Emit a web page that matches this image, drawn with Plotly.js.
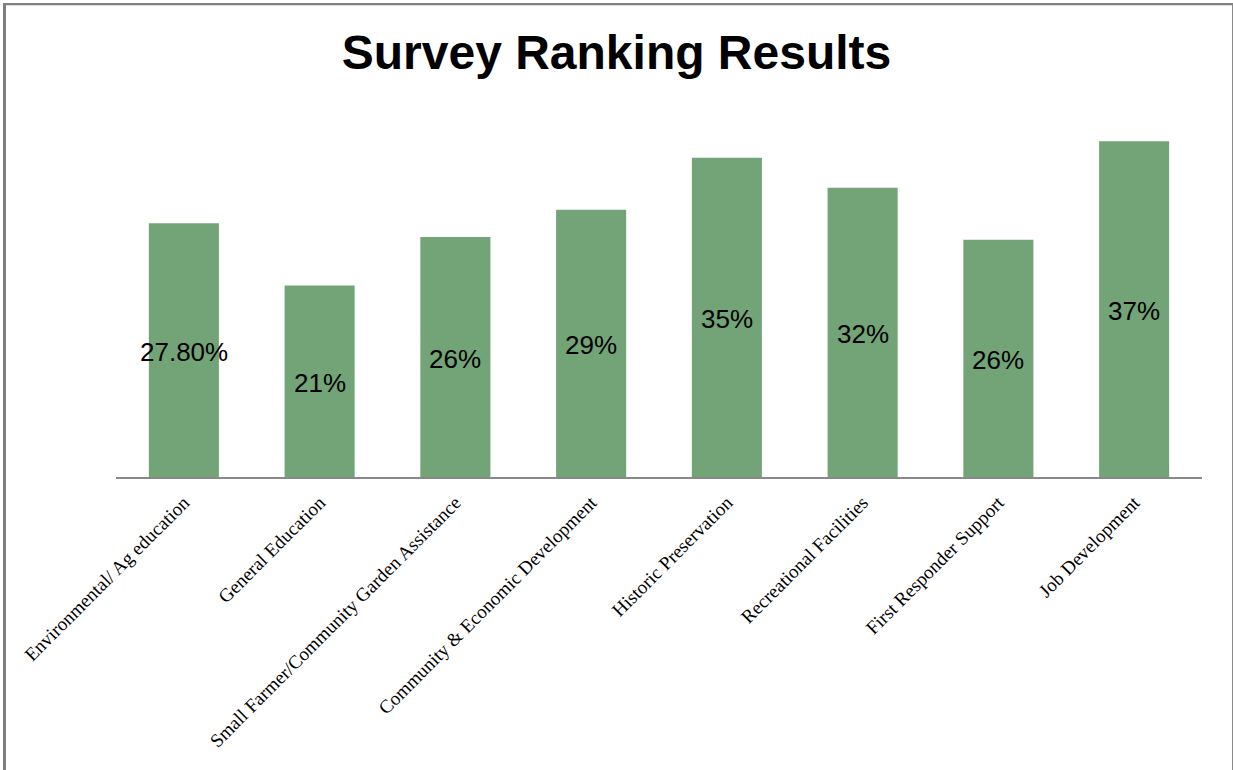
<!DOCTYPE html>
<html>
<head>
<meta charset="utf-8">
<script src="https://cdn.plot.ly/plotly-3.0.1.min.js"></script>
<style>
  html, body { margin: 0; padding: 0; background: #fff; }
  #wrap { position: relative; width: 1233px; height: 770px; overflow: hidden; }
  #chart { position: absolute; left: 0; top: 0; width: 1233px; height: 770px; }
  #frame { position: absolute; left: 3px; top: 3px; width: 1226px; height: 800px;
           border-left: 3px solid #7f7f7f; border-top: 2px solid #808080; border-right: 3px solid #8a8a8a;
           box-shadow: inset 0 1px 0 #dcdcdc; pointer-events: none; }
</style>
</head>
<body>
<div id="wrap">
  <div id="chart"></div>
  <div id="frame"></div>
</div>
<script>
const categories = [
  "Environmental/ Ag education",
  "General Education",
  "Small Farmer/Community Garden Assistance",
  "Community & Economic Development",
  "Historic Preservation",
  "Recreational Facilities",
  "First Responder Support",
  "Job Development"
];
const values = [27.8, 21, 26.3, 29.3, 35, 31.7, 26, 36.8];
const valueLabels = ["27.80%", "21%", "26%", "29%", "35%", "32%", "26%", "37%"];

const bars = {
  type: "bar",
  x: categories,
  y: values,
  marker: { color: "#72a478" },
  hoverinfo: "none"
};

// data labels centred in each bar (half of each bar's value)
const labelAnnotations = categories.map((c, i) => ({
  x: c,
  y: values[i] / 2,
  xref: "x",
  yref: "y",
  text: valueLabels[i],
  showarrow: false,
  xanchor: "center",
  yanchor: "middle",
  yshift: -2,
  font: { family: "Liberation Sans, Arial, sans-serif", size: 26, color: "#000" }
}));

const layout = {
  width: 1233,
  height: 770,
  margin: { l: 116, r: 31, t: 112, b: 293 },
  paper_bgcolor: "rgba(0,0,0,0)",
  plot_bgcolor: "rgba(0,0,0,0)",
  bargap: 0.484,
  showlegend: false,
  annotations: labelAnnotations,
  title: {
    text: "<b>Survey Ranking Results</b>",
    font: { family: "Liberation Sans, Arial, sans-serif", size: 48, color: "#000" },
    x: 0.5, xanchor: "center",
    y: 1 - 52 / 770, yanchor: "middle", yref: "container"
  },
  xaxis: {
    type: "category",
    showline: true,
    linecolor: "#898989",
    linewidth: 2,
    ticks: "",
    tickangle: -45,
    ticklabelstandoff: 5,
    tickfont: { family: "Liberation Serif, Times New Roman, serif", size: 19, color: "#000" },
    showgrid: false,
    zeroline: false
  },
  yaxis: {
    range: [0, 40],
    visible: false,
    showgrid: false,
    zeroline: false
  }
};

Plotly.newPlot("chart", [bars], layout, { displayModeBar: false, staticPlot: true });
</script>
</body>
</html>
